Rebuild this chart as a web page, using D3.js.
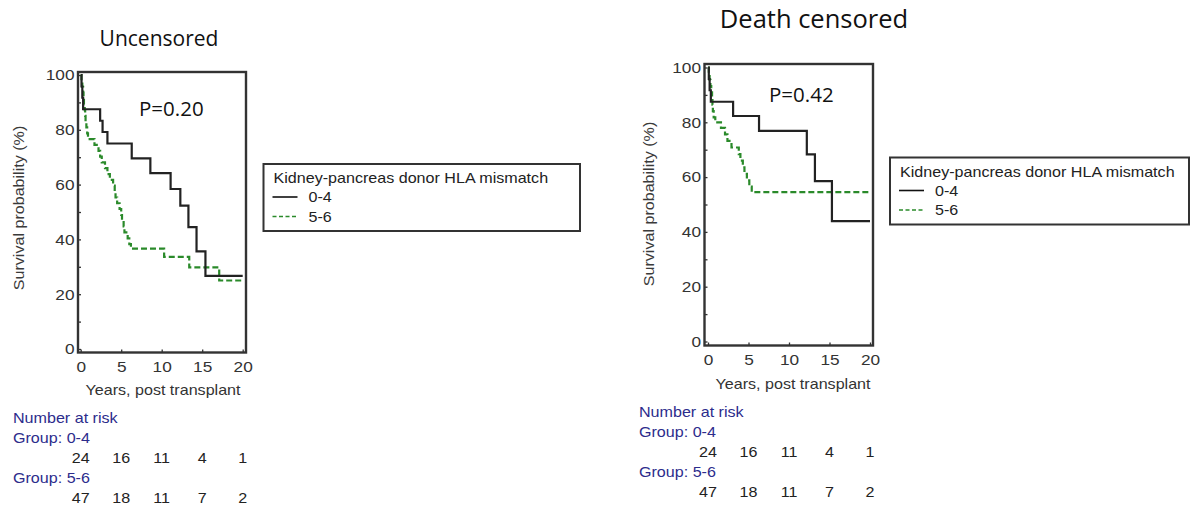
<!DOCTYPE html>
<html>
<head>
<meta charset="utf-8">
<script src="https://d3js.org/d3.v7.min.js"></script>
<style>
  body { margin:0; background:#fff; }
  svg { display:block; }
</style>
</head>
<body>
<svg id="chart" width="1191" height="505"></svg>
<script>
// ---- data ----
var yearTicks = [0, 5, 10, 15, 20];
var yMajor = [0, 20, 40, 60, 80, 100];
var yMinor = [10, 30, 50, 70, 90];
var groupNames = ["0-4", "5-6"];
var legendTitle = "Kidney-pancreas donor HLA mismatch";
var panelTitles = ["Uncensored", "Death censored"];
var pValues = ["P=0.20", "P=0.42"];

// [years, survival %]
var unc04 = [[0,100],[0.1,95.8],[0.2,91.7],[0.3,87.5],[2.4,83.3],[2.7,79.2],[3.3,75.0],[6.3,69.6],[8.6,64.2],[11.1,58.4],[12.3,52.3],[13.3,44.5],[14.3,35.6],[15.4,26.7],[20,26.7]];
var unc56 = [[0,100],[0.1,97.9],[0.2,95.7],[0.3,93.6],[0.35,91.5],[0.4,89.4],[0.5,87.2],[0.55,85.1],[0.6,83.0],[0.7,80.9],[0.8,78.7],[0.9,76.6],[1.7,74.5],[2.2,72.3],[2.4,70.2],[2.6,68.1],[3.0,66.0],[3.3,63.8],[3.6,61.7],[4.0,59.6],[4.2,57.4],[4.3,55.3],[4.5,53.2],[4.8,51.1],[5.0,48.9],[5.1,46.8],[5.3,44.7],[5.4,42.6],[5.8,40.4],[6.0,38.3],[6.2,36.6],[10.3,33.6],[13.4,29.8],[17.1,25.0],[20,25.0]];
var dc04 = [[0,100],[0.1,95.8],[0.2,91.7],[0.35,87.5],[3.1,82.3],[6.3,76.9],[12.2,68.3],[13.2,58.5],[15.3,43.9],[20,43.9]];
var dc56 = [[0,100],[0.1,97.7],[0.2,95.5],[0.3,93.2],[0.4,90.9],[0.5,88.6],[0.55,86.4],[0.6,84.1],[0.7,81.8],[0.9,80.0],[1.6,78.0],[2.1,75.6],[2.4,73.2],[2.9,70.8],[3.8,68.4],[4.0,66.0],[4.3,63.6],[4.5,61.2],[4.8,58.8],[5.1,56.5],[5.4,54.5],[20,54.5]];

var risk04 = [24, 16, 11, 4, 1];
var risk56 = [47, 18, 11, 7, 2];

// ---- drawing ----
var svg = d3.select("#chart");
var SX = 1.15; // source picture is stretched sideways
var arial = "'Liberation Sans', Arial, sans-serif";

function stext(g, x, y, str, size, color, anchor) {
    return g.append("text")
        .attr("transform", "translate(" + x + "," + y + ") scale(" + SX + ",1)")
        .attr("font-family", arial)
        .attr("font-size", size)
        .attr("fill", color || "#222")
        .attr("text-anchor", anchor || "start")
        .text(str);
}

var panels = [
    {x0: 80.7, x1: 242.7, y0: 349, y1: 75, frame: [78, 72, 246, 352.5],
     curves: [unc04, unc56], title: [159, 46, 21], p: [139, 116],
     ylab: [19, 208], xlab: [163, 395],
     legend: [263.5, 164, 316.5, 67], risk: [13, 423]},
    {x0: 708, x1: 870, y0: 341.5, y1: 67.5, frame: [704.5, 64, 873, 345.5],
     curves: [dc04, dc56], title: [814, 28, 25.5], p: [769, 102],
     ylab: [649, 204], xlab: [793, 389],
     legend: [890, 157.5, 299, 67], risk: [639, 416.7]}
];

panels.forEach(function (p, i) {
    var x = d3.scaleLinear().domain([0, 20]).range([p.x0, p.x1]);
    var y = d3.scaleLinear().domain([0, 100]).range([p.y0, p.y1]);
    var g = svg.append("g").attr("class", "panel" + i);
    var f = p.frame;

    // minor y ticks
    g.append("g")
        .attr("transform", "translate(" + f[0] + ",0)")
        .call(d3.axisLeft(y).tickValues(yMinor).tickSize(-3).tickFormat(""))
        .call(function (a) { a.select(".domain").remove(); })
        .selectAll("line").attr("stroke", "#333").attr("stroke-width", 1.3);

    // major y ticks + labels
    var ya = g.append("g")
        .attr("transform", "translate(" + f[0] + ",0)")
        .call(d3.axisLeft(y).tickValues(yMajor).tickSize(-3).tickPadding(3));
    ya.select(".domain").remove();
    ya.selectAll("line").attr("stroke", "#333").attr("stroke-width", 1.3);
    ya.selectAll("text")
        .attr("font-family", arial).attr("font-size", 15).attr("fill", "#333")
        .attr("transform", "scale(" + SX + ",1)");

    // x ticks + labels
    var xa = g.append("g")
        .attr("transform", "translate(0," + f[3] + ")")
        .call(d3.axisBottom(x).tickValues(yearTicks).tickSize(-3).tickPadding(9));
    xa.select(".domain").remove();
    xa.selectAll("line").attr("stroke", "#333").attr("stroke-width", 1.3);
    xa.selectAll("text")
        .attr("font-family", arial).attr("font-size", 15).attr("fill", "#333")
        .attr("transform", "scale(" + SX + ",1)");

    // curves
    var line = d3.line()
        .x(function (d) { return x(d[0]); })
        .y(function (d) { return y(d[1]); })
        .curve(d3.curveStepAfter);
    g.append("path").datum(p.curves[1])
        .attr("d", line).attr("fill", "none")
        .attr("stroke", "#2a8a2a").attr("stroke-width", 2.2)
        .attr("stroke-dasharray", "6,3");
    g.append("path").datum(p.curves[0])
        .attr("d", line).attr("fill", "none")
        .attr("stroke", "#222").attr("stroke-width", 2.2);

    // frame
    g.append("rect")
        .attr("x", f[0]).attr("y", f[1])
        .attr("width", f[2] - f[0]).attr("height", f[3] - f[1])
        .attr("fill", "none").attr("stroke", "#333").attr("stroke-width", 2.4);

    // titles
    g.append("text")
        .attr("x", p.title[0]).attr("y", p.title[1])
        .attr("font-family", "'Open Sans', sans-serif").attr("font-size", p.title[2])
        .attr("text-anchor", "middle").attr("fill", "#111")
        .text(panelTitles[i]);
    g.append("text")
        .attr("x", p.p[0]).attr("y", p.p[1])
        .attr("font-family", "'Open Sans', sans-serif").attr("font-size", 20.5)
        .attr("fill", "#111")
        .text(pValues[i]);

    // axis titles
    g.append("text")
        .attr("transform", "translate(" + p.ylab[0] + "," + p.ylab[1] + ") rotate(-90) scale(" + SX + ",1)")
        .attr("font-family", arial).attr("font-size", 14)
        .attr("text-anchor", "middle").attr("dy", "0.35em").attr("fill", "#3a3a3a")
        .text("Survival probability (%)");
    stext(g, p.xlab[0], p.xlab[1], "Years, post transplant", 14, "#333", "middle");

    // legend
    var L = p.legend;
    var lg = g.append("g").attr("transform", "translate(" + L[0] + "," + L[1] + ")");
    lg.append("rect").attr("width", L[2]).attr("height", L[3])
        .attr("fill", "#fff").attr("stroke", "#333").attr("stroke-width", 2);
    stext(lg, 10, 19, legendTitle, 14, "#222");
    groupNames.forEach(function (name, k) {
        var by = 38 + k * 19.5;
        lg.append("line")
            .attr("x1", 9).attr("x2", 34).attr("y1", by - 5).attr("y2", by - 5)
            .attr("stroke", k === 0 ? "#111" : "#2a8a2a").attr("stroke-width", 1.6)
            .attr("stroke-dasharray", k === 0 ? null : "4,2.5");
        stext(lg, 45, by, name, 14, "#222");
    });

    // number at risk
    var R = p.risk;
    var lab = "#2c2c8c";
    stext(g, R[0], R[1], "Number at risk", 14, lab);
    stext(g, R[0], R[1] + 20, "Group: " + groupNames[0], 14, lab);
    stext(g, R[0], R[1] + 60, "Group: " + groupNames[1], 14, lab);
    [risk04, risk56].forEach(function (row, k) {
        row.forEach(function (n, j) {
            stext(g, x(yearTicks[j]), R[1] + 40 + k * 40, n, 14, "#222", "middle");
        });
    });
});
</script>
</body>
</html>
